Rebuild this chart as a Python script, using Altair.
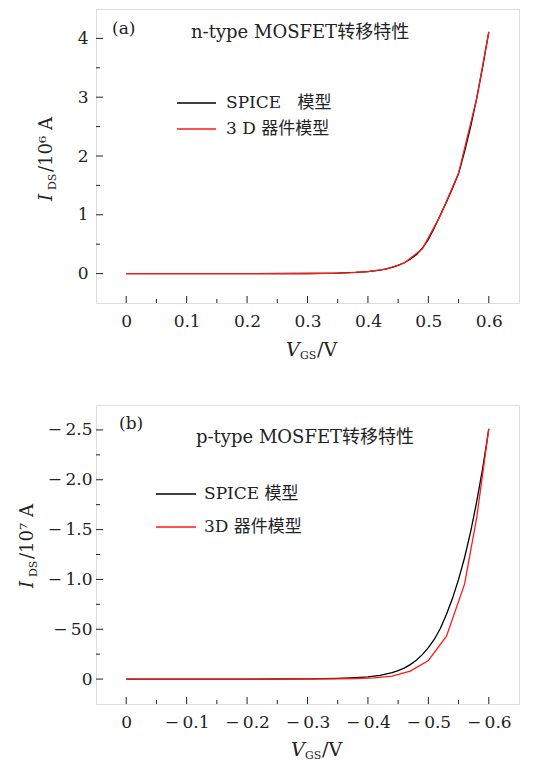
import altair as alt
import pandas as pd

FONT = "DejaVu Serif, Noto Sans CJK SC"
TXT = "#222"
NB = "\u00a0"

# ---------- panel (a): n-type ----------
a_spice_v = [0, 0.1, 0.2, 0.3, 0.35, 0.38, 0.40, 0.41, 0.42, 0.43, 0.44, 0.45, 0.46, 0.47,
             0.48, 0.49, 0.50, 0.51, 0.52, 0.53, 0.54, 0.55, 0.56, 0.57, 0.58, 0.59, 0.60]
a_spice_i = [0, 0, 0, 0.002, 0.008, 0.02, 0.035, 0.045, 0.06, 0.08, 0.105, 0.14, 0.185, 0.245,
             0.32, 0.43, 0.58, 0.78, 1.0, 1.22, 1.45, 1.70, 2.08, 2.50, 2.98, 3.52, 4.11]
a_red_v = [0, 0.1, 0.2, 0.3, 0.34, 0.37, 0.40, 0.43, 0.46, 0.49, 0.52, 0.55, 0.58, 0.60]
a_red_i = [0, 0, 0, 0.002, 0.006, 0.015, 0.033, 0.075, 0.18, 0.42, 0.99, 1.71, 2.98, 4.11]
a_labels = ["SPICE" + NB * 3 + "模型", "3" + NB + "D" + NB + "器件模型"]

# ---------- panel (b): p-type ----------
b_spice_v = [0, -0.1, -0.2, -0.25, -0.3, -0.35, -0.38, -0.40, -0.42, -0.44, -0.45, -0.46, -0.47,
             -0.48, -0.49, -0.50, -0.51, -0.52, -0.53, -0.54, -0.55, -0.56, -0.57, -0.58, -0.59, -0.60]
b_spice_i = [0, 0, 0, -0.001, -0.003, -0.008, -0.015, -0.022, -0.037, -0.065, -0.085, -0.11, -0.145,
             -0.19, -0.245, -0.315, -0.40, -0.51, -0.65, -0.81, -1.0, -1.22, -1.48, -1.78, -2.12, -2.51]
b_red_v = [0, -0.1, -0.2, -0.3, -0.35, -0.38, -0.41, -0.44, -0.47, -0.50, -0.53, -0.56, -0.58, -0.60]
b_red_i = [0, 0, 0, -0.001, -0.003, -0.006, -0.012, -0.03, -0.08, -0.187, -0.43, -0.955, -1.62, -2.51]
b_labels = ["SPICE" + NB + "模型", "3D" + NB + "器件模型"]

# tick values
a_x_major = [0, 0.1, 0.2, 0.3, 0.4, 0.5, 0.6]
a_x_minor = [0.05, 0.15, 0.25, 0.35, 0.45, 0.55]
a_y_major = [0, 1, 2, 3, 4]
a_y_minor = [0.5, 1.5, 2.5, 3.5]
b_x_major = [0, -0.1, -0.2, -0.3, -0.4, -0.5, -0.6]
b_x_minor = [-0.05, -0.15, -0.25, -0.35, -0.45, -0.55]
b_y_major = [0, -0.5, -1.0, -1.5, -2.0, -2.5]
b_y_minor = [-0.25, -0.75, -1.25, -1.75, -2.25]

COLORS = ["#000000", "#ff1a1a"]
W = 423


def txt(s, x, y, size=17, angle=0, italic=False, align="left", baseline="alphabetic"):
    kw = dict(font=FONT, fontSize=size, color=TXT, align=align, baseline=baseline)
    if angle:
        kw["angle"] = angle
    if italic:
        kw["fontStyle"] = "italic"
    return alt.Chart(pd.DataFrame({"t": [s]})).mark_text(**kw).encode(
        text="t:N", x=alt.value(x), y=alt.value(y))


def legend_layers(labels, x0, x1, ys, xt):
    out = []
    for lab, col, yy in zip(labels, COLORS, ys):
        out.append(alt.Chart(pd.DataFrame({"s": [lab]})).mark_rule(color=col, strokeWidth=1.3).encode(
            x=alt.value(x0), x2=alt.value(x1), y=alt.value(yy)))
        out.append(txt(lab, xt, yy, size=17, baseline="middle"))
    return out


def panel(sv, si, rv, ri, labels, xdom, ydom, rev, xmaj, xmin, ymaj, ymin,
          xexpr, yexpr, H, ylabpad, extra):
    df = pd.concat([
        pd.DataFrame({"v": sv, "i": si, "series": labels[0]}),
        pd.DataFrame({"v": rv, "i": ri, "series": labels[1]}),
    ])
    xs = alt.Scale(domain=xdom, nice=False, zero=False, reverse=rev)
    ys = alt.Scale(domain=ydom, nice=False, zero=False, reverse=rev)
    xaxis = alt.Axis(values=xmaj, labelExpr=xexpr, ticks=False, domain=False, grid=False,
                     labelFont=FONT, labelFontSize=17, labelColor=TXT, labelPadding=10,
                     title=None)
    yaxis = alt.Axis(values=ymaj, labelExpr=yexpr, ticks=False, domain=False, grid=False,
                     labelFont=FONT, labelFontSize=17, labelColor=TXT, labelPadding=ylabpad,
                     title=None)
    lines = alt.Chart(df).mark_line(strokeWidth=1.3).encode(
        x=alt.X("v:Q", scale=xs, axis=xaxis),
        y=alt.Y("i:Q", scale=ys, axis=yaxis),
        color=alt.Color("series:N", scale=alt.Scale(domain=labels, range=COLORS), legend=None),
        order="v:Q",
    )
    tick_col = "#222"
    xM = alt.Chart(pd.DataFrame({"t": xmaj})).mark_rule(color=tick_col, strokeWidth=1).encode(
        x="t:Q", y=alt.value(H), y2=alt.value(H - 7))
    xm = alt.Chart(pd.DataFrame({"t": xmin})).mark_rule(color=tick_col, strokeWidth=1).encode(
        x="t:Q", y=alt.value(H), y2=alt.value(H - 4))
    yM = alt.Chart(pd.DataFrame({"t": ymaj})).mark_rule(color=tick_col, strokeWidth=1).encode(
        y="t:Q", x=alt.value(0), x2=alt.value(7))
    ym = alt.Chart(pd.DataFrame({"t": ymin})).mark_rule(color=tick_col, strokeWidth=1).encode(
        y="t:Q", x=alt.value(0), x2=alt.value(4))
    return alt.layer(xM, xm, yM, ym, lines, *extra).properties(width=W, height=H)


HA = 294
HB = 299

extra_a = [
    txt("(a)", 16, 20, size=17, baseline="middle"),
    txt("n-type MOSFET转移特性", 95, 29, size=18),
    txt("I", -44, 192, size=18, angle=270, italic=True),
    txt("DS", -40, 181, size=11, angle=270),
    txt("/10⁶ A", -44, 163, size=18, angle=270),
    txt("V", 190, HA + 53, size=19, italic=True),
    txt("GS", 204, HA + 56, size=11),
    txt("/V", 221, HA + 53, size=19),
] + legend_layers(a_labels, 81, 120, [94, 120], 130)

extra_b = [
    txt("(b)", 23, 19, size=17, baseline="middle"),
    txt("p-type MOSFET转移特性", 100, 38, size=18),
    txt("I", -63, 183, size=18, angle=270, italic=True),
    txt("DS", -59, 172, size=11, angle=270),
    txt("/10⁷ A", -63, 154, size=18, angle=270),
    txt("V", 195, HB + 52, size=19, italic=True),
    txt("GS", 209, HB + 55, size=11),
    txt("/V", 226, HB + 52, size=19),
] + legend_layers(b_labels, 60, 100, [89, 122], 108)

pa = panel(a_spice_v, a_spice_i, a_red_v, a_red_i, a_labels,
           [-0.05, 0.65], [-0.5, 4.5], False,
           a_x_major, a_x_minor, a_y_major, a_y_minor,
           "datum.value == 0 ? '0' : format(datum.value, '.1f')",
           "format(datum.value, 'd')",
           HA, 8, extra_a)

pb = panel(b_spice_v, b_spice_i, b_red_v, b_red_i, b_labels,
           [-0.65, 0.05], [-2.75, 0.25], True,
           b_x_major, b_x_minor, b_y_major, b_y_minor,
           "datum.value == 0 ? '0' : '−\u2009' + format(-datum.value, '.1f')",
           "datum.value == 0 ? '0' : (datum.value == -0.5 ? '−\u200950' : '−\u2009' + format(-datum.value, '.1f'))",
           HB, 4, extra_b)

chart = alt.vconcat(pa, pb, spacing=42).resolve_scale(
    color="independent", x="independent", y="independent"
).properties(
    padding={"left": 10, "top": 0, "right": 5, "bottom": 0}
).configure_view(stroke="#222", strokeWidth=1.5).configure(background="white")

chart.save("out.html", embed_options={"renderer": "svg", "actions": False})
